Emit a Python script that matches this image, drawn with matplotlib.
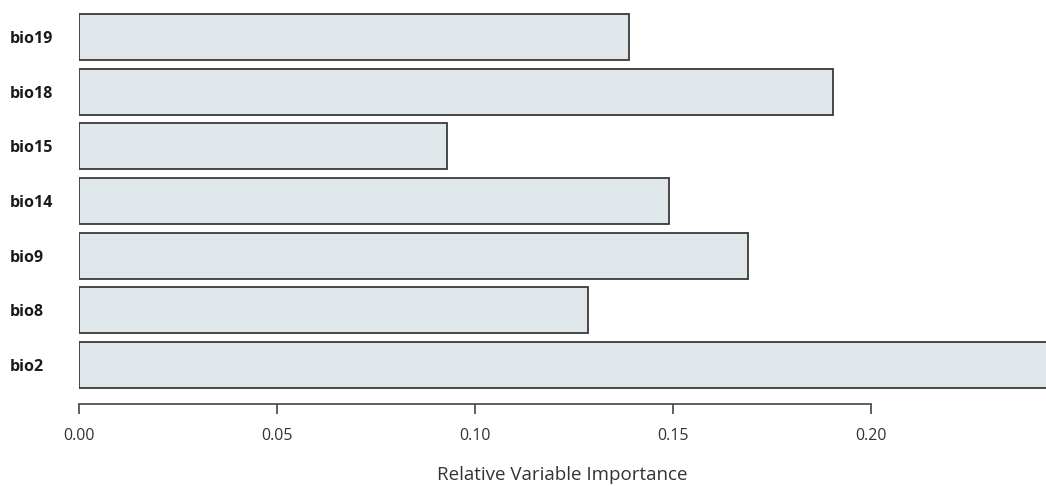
import matplotlib.pyplot as plt

variables = ["bio2", "bio8", "bio9", "bio14", "bio15", "bio18", "bio19"]
importance = [0.252, 0.1285, 0.169, 0.149, 0.0929, 0.1904, 0.1389]
ticks = [0.00, 0.05, 0.10, 0.15, 0.20]

plt.rcParams["font.family"] = ["Open Sans", "DejaVu Sans"]

fig = plt.figure(figsize=(10.46, 4.86), dpi=100)
ax = fig.add_axes([0.0755, 0.1687, 0.9245, 0.8313])

ax.barh(range(len(variables)), importance, height=0.84,
        color="#dfe7eb", edgecolor="#3a3a3a", linewidth=1.3)

ax.set_xlim(0, 0.2442)
ax.set_ylim(-0.713, 6.677)
ax.set_yticks(range(len(variables)))
ax.set_yticklabels(variables, fontsize=11.5, fontweight="bold", color="#1a1a1a")
ax.tick_params(axis="y", length=0, pad=50)
for lab in ax.get_yticklabels():
    lab.set_horizontalalignment("left")

ax.set_xticks(ticks)
ax.set_xticklabels([f"{t:.2f}" for t in ticks], fontsize=11.5, color="#333333")
ax.tick_params(axis="x", length=7, width=1.2, color="#444444", pad=10)

for side in ["left", "right", "top"]:
    ax.spines[side].set_visible(False)
ax.spines["bottom"].set_bounds(0, 0.2)
ax.spines["bottom"].set_linewidth(1.2)
ax.spines["bottom"].set_color("#444444")

ax.set_xlabel("Relative Variable Importance", fontsize=13.5, color="#333333",
              labelpad=16)

fig.savefig("out.png", dpi=100)
